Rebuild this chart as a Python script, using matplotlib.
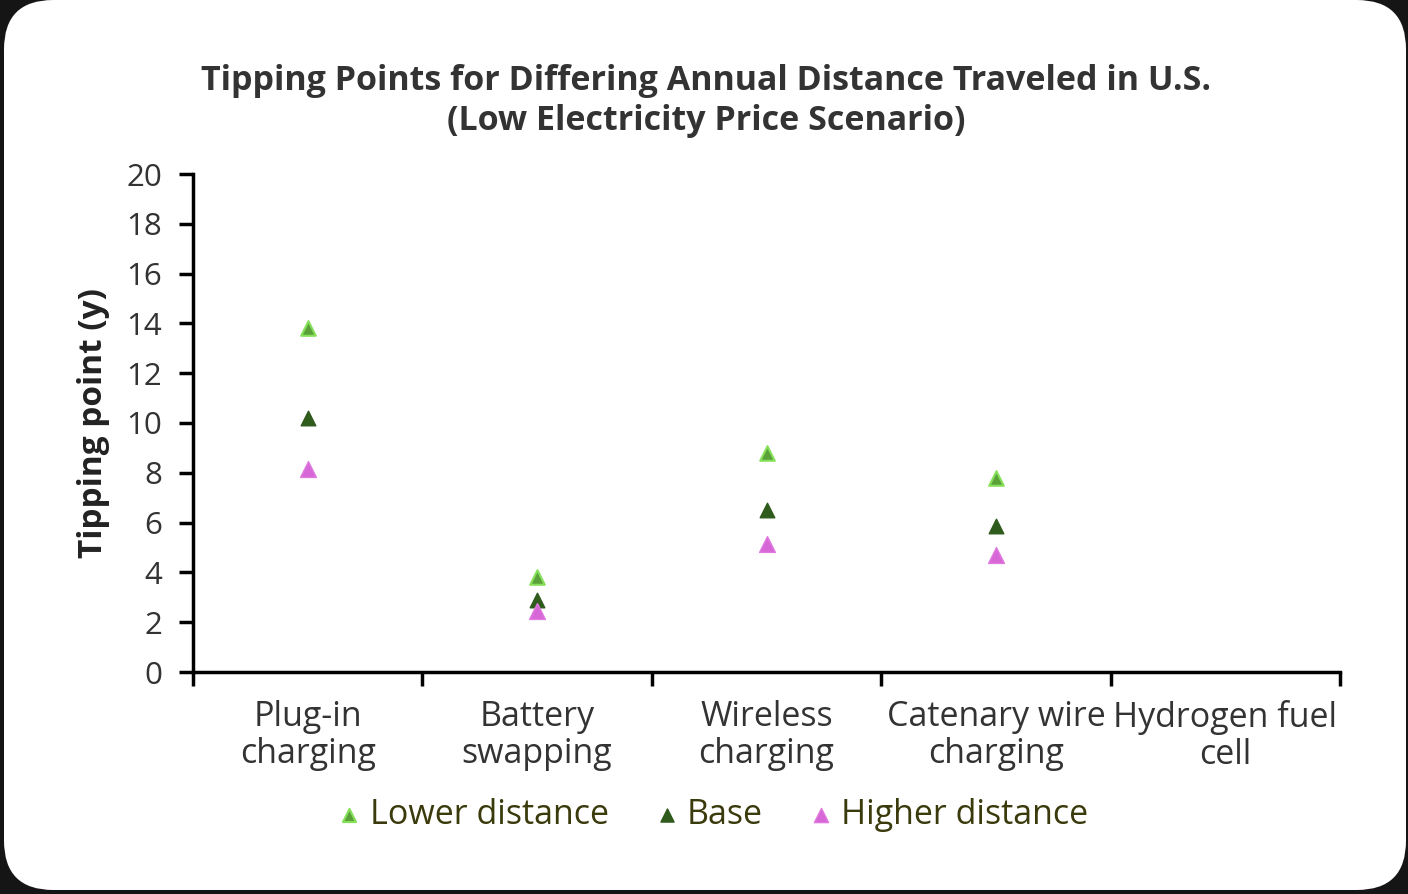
import numpy as np
import matplotlib.pyplot as plt
from matplotlib.patches import FancyBboxPatch

# tipping point (years) per infrastructure option
categories = ['Plug-in\ncharging', 'Battery\nswapping', 'Wireless\ncharging',
              'Catenary wire\ncharging', 'Hydrogen fuel\ncell']
lower_distance  = [13.8, 3.8, 8.8, 7.8, np.nan]
base            = [10.2, 2.9, 6.5, 5.85, np.nan]
higher_distance = [8.15, 2.45, 5.15, 4.7, np.nan]

plt.rcParams['font.family'] = ['Open Sans', 'DejaVu Sans']

W, H = 1408, 894
fig = plt.figure(figsize=(W / 100, H / 100), dpi=100)
fig.patch.set_facecolor('#151515')

# white rounded card behind the chart
card = FancyBboxPatch((4 / W, 4 / H), (W - 6) / W, (H - 4) / H,
                      boxstyle='round,pad=0,rounding_size=0.035',
                      transform=fig.transFigure, facecolor='white',
                      edgecolor='none', mutation_aspect=W / H, zorder=-5)
fig.patches.append(card)

ax = fig.add_axes([193 / W, 1 - 672 / H, (1340 - 193) / W, (672 - 174) / H])
ax.set_facecolor('none')
ax.set_zorder(2)

x = np.arange(len(categories))
ax.scatter(x, lower_distance, marker='^', s=110, color='#5ba13a',
           edgecolors='#86e05a', linewidths=1.5, label='Lower distance', zorder=3)
ax.scatter(x, base, marker='^', s=110, color='#2f5b1d',
           edgecolors='#2f5b1d', linewidths=1, label='Base', zorder=3)
ax.scatter(x, higher_distance, marker='^', s=130, color='#d766d6',
           edgecolors='#e07ae0', linewidths=1, label='Higher distance', zorder=3)

ax.set_xlim(-0.5, len(categories) - 0.5)
ax.set_ylim(0, 20)
ax.set_yticks(range(0, 21, 2))
ax.set_xticks(np.arange(-0.5, len(categories), 1))
ax.set_xticklabels([])
ax.set_xticks(x, minor=True)
ax.set_xticklabels(categories, minor=True, fontsize=24.5, color='#333333',
                   linespacing=1.12)
ax.tick_params(axis='x', which='major', length=10, width=2.5, direction='out')
ax.tick_params(axis='x', which='minor', length=0, pad=20)
ax.tick_params(axis='y', length=10, width=2.5, direction='out',
               labelsize=22.5, labelcolor='#333333', pad=12)

for side in ['top', 'right']:
    ax.spines[side].set_visible(False)
ax.spines['left'].set_linewidth(2.5)
ax.spines['bottom'].set_linewidth(2.5)

ax.set_ylabel('Tipping point (y)', fontsize=24, fontweight='bold',
              color='#222222', labelpad=12)

fig.text(706 / W, 1 - 101 / H,
         'Tipping Points for Differing Annual Distance Traveled in U.S.\n(Low Electricity Price Scenario)',
         ha='center', va='center', fontsize=24.5, fontweight='bold',
         color='#333333', linespacing=1.25)

leg = fig.legend(loc='center', bbox_to_anchor=(712 / W, 1 - 815 / H),
                 ncol=3, frameon=False, fontsize=24.5, handletextpad=0.2,
                 handlelength=0.8, columnspacing=1.3, markerscale=0.9)
for t in leg.get_texts():
    t.set_color('#3a3a0c')

fig.savefig('out.png', dpi=100, facecolor=fig.get_facecolor())
